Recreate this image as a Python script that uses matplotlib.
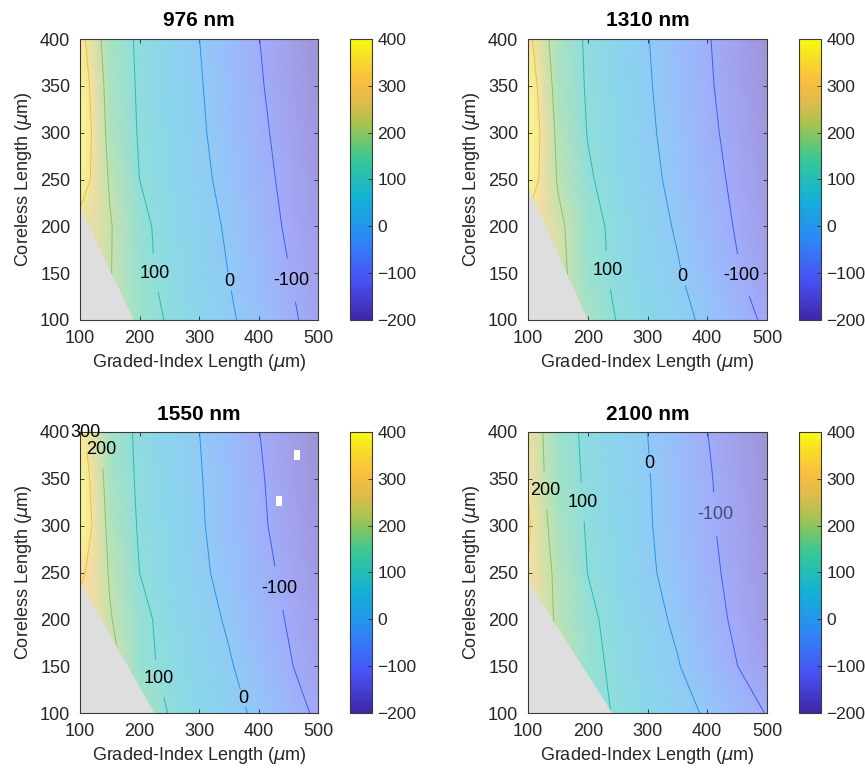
import numpy as np
import matplotlib
matplotlib.use("Agg")
import matplotlib.pyplot as plt
from matplotlib.colors import LinearSegmentedColormap, Normalize
from matplotlib.cm import ScalarMappable

plt.rcParams["font.family"] = ["Liberation Sans", "DejaVu Sans"]
plt.rcParams["axes.linewidth"] = 0.8

# ---- grid (µm) ----
gi_len = [100, 125, 150, 200, 250, 300, 350, 400, 450, 500]   # graded-index length
cl_len = [100, 150, 200, 250, 300, 350, 400]                   # coreless length

# ---- focal shift (µm), one row per coreless length, columns follow gi_len ----
shift_976 = [
    [320, 270, 220, 145, 90, 51, 12, -34, -83, -131],
    [300, 250, 205, 125, 75, 39, -1, -49, -97, -145],
    [250, 240, 207, 121, 70, 31, -10, -60, -111, -159],
    [380, 265, 192, 100, 60, 20, -24, -72, -121, -168],
    [400, 270, 172, 93, 52, 12, -34, -82, -130, -177],
    [380, 255, 165, 89, 48, 7, -42, -91, -139, -186],
    [340, 230, 157, 85, 43, 1, -49, -98, -146, -193],
]
shift_1310 = [
    [330, 280, 240, 160, 96, 60, 24, -16, -66, -115],
    [320, 270, 230, 135, 82, 46, 7, -42, -94, -142],
    [270, 255, 220, 134, 75, 34, -8, -57, -107, -155],
    [380, 270, 193, 110, 64, 22, -22, -70, -118, -166],
    [400, 275, 180, 97, 56, 14, -32, -81, -128, -176],
    [380, 250, 169, 91, 49, 8, -40, -89, -137, -184],
    [330, 225, 162, 87, 45, 3, -46, -94, -142, -189],
]
shift_1550 = [
    [330, 290, 250, 170, 96, 60, 25, -15, -64, -114],
    [320, 280, 240, 125, 80, 46, 8, -41, -92, -140],
    [260, 255, 207, 123, 71, 32, -10, -58, -106, -153],
    [320, 265, 192, 100, 58, 17, -27, -73, -119, -166],
    [400, 275, 173, 92, 51, 10, -37, -85, -132, -180],
    [385, 255, 161, 87, 47, 6, -41, -90, -138, -185],
    [340, 225, 155, 83, 42, 1, -48, -98, -146, -193],
]
shift_2100 = [
    [290, 260, 230, 140, 88, 58, 26, -9, -57, -104],
    [280, 250, 220, 130, 78, 43, 5, -46, -99, -147],
    [270, 235, 186, 118, 70, 29, -14, -65, -116, -164],
    [295, 230, 180, 99, 57, 14, -31, -78, -126, -173],
    [318, 218, 164, 92, 50, 8, -38, -87, -134, -182],
    [290, 205, 152, 85, 45, 5, -43, -91, -139, -186],
    [265, 200, 145, 80, 40, 0, -49, -99, -147, -194],
]

# no-solution corner: (coreless length at gi=100, gi length at coreless=100)
corner_976 = (221, 190)
corner_1310 = (242, 200)
corner_1550 = (240, 225)
corner_2100 = (241, 241)

# isolated failed points (gi, coreless)
missing_1550 = [(465, 375), (435, 326)]

levels = [-100, 0, 100, 200, 300]

# contour label anchors (gi, coreless)
labels_976 = [(222, 150), (351, 141), (453, 142)]
labels_1310 = [(230, 153), (359, 146), (456, 147)]
labels_1550 = [(97, 399), (124, 381), (236, 137), (374, 116), (433, 233)]
labels_2100 = [(125, 337), (187, 325), (303, 366), (412, 312)]

panels = [
    ("976 nm", shift_976, corner_976, labels_976, []),
    ("1310 nm", shift_1310, corner_1310, labels_1310, []),
    ("1550 nm", shift_1550, corner_1550, labels_1550, missing_1550),
    ("2100 nm", shift_2100, corner_2100, labels_2100, []),
]

# parula-like colour ramp
parula_nodes = [0.0, 1 / 7, 2 / 7, 3 / 7, 4 / 7, 0.64, 0.71, 0.77, 0.86, 0.93, 1.0]
parula_rgb = [
    (0.2422, 0.1504, 0.6603),
    (0.2810, 0.3228, 0.9579),
    (0.1786, 0.5289, 0.9682),
    (0.0689, 0.6948, 0.8394),
    (0.2161, 0.7843, 0.5923),
    (0.4500, 0.7750, 0.4200),
    (0.7000, 0.7600, 0.3000),
    (0.8600, 0.7350, 0.3000),
    (0.9900, 0.7500, 0.2400),
    (0.9700, 0.8600, 0.1600),
    (0.9728, 0.9840, 0.0530),
]
parula = LinearSegmentedColormap.from_list("parula", list(zip(parula_nodes, parula_rgb)), N=256)
# half-transparent surface over a white background
face_alpha = 0.5
parula_faded = LinearSegmentedColormap.from_list(
    "parula_faded",
    [(t, tuple(face_alpha * v + (1 - face_alpha) for v in rgb))
     for t, rgb in zip(parula_nodes, parula_rgb)],
    N=256)
norm = Normalize(-200, 400)

W, H = 865, 772
fig = plt.figure(figsize=(W / 100, H / 100), dpi=100)

col_x = [80, 528]
col_w = [238, 239]
cbar_x = [350, 799]
row_top = [39, 432]
ax_h = 281

text_col = "#262626"
gi = np.array(gi_len, float)
cl = np.array(cl_len, float)

for k, (title, vals, corner, lab_pos, missing) in enumerate(panels):
    r, c = divmod(k, 2)
    bottom = 1 - (row_top[r] + ax_h) / H
    ax = fig.add_axes([col_x[c] / W, bottom, col_w[c] / W, ax_h / H])
    cax = fig.add_axes([cbar_x[c] / W, bottom, 22 / W, ax_h / H])

    Z = np.array(vals, float)
    ax.pcolormesh(gi, cl, Z, shading="gouraud", cmap=parula_faded, norm=norm,
                  zorder=1, rasterized=True)
    cs = ax.contour(gi, cl, Z, levels=levels, cmap=parula, norm=norm,
                    linewidths=0.7, zorder=2)

    c0, g1 = corner
    ax.fill([gi_len[0], gi_len[0], g1], [cl_len[0], c0, cl_len[0]],
            color="#dedede", lw=0, zorder=2.5)

    if missing:
        mx, my = zip(*missing)
        ax.scatter(mx, my, marker=[(-0.33, -0.5), (0.33, -0.5), (0.33, 0.5), (-0.33, 0.5)],
                   s=45, color="white", lw=0, zorder=3)

    texts = ax.clabel(cs, manual=lab_pos, inline=True, inline_spacing=4,
                      fontsize=13, colors="k", fmt="%d", zorder=4)
    for t in texts:
        t.set_rotation(0)
        t.set_clip_on(False)
        if t.get_text() == "-100":
            t.set_color("#4a4a7a")

    ax.set_xlim(100, 500)
    ax.set_ylim(100, 400)
    ax.set_xticks(range(100, 501, 100))
    ax.set_yticks(range(100, 401, 50))
    ax.tick_params(direction="in", length=3, width=0.6, top=True, right=True,
                   labelsize=13, colors=text_col, pad=7)
    for s in ax.spines.values():
        s.set_color("#3a3a3a")
    ax.set_xlabel(r"Graded-Index Length ($\mu$m)", fontsize=13, color=text_col, labelpad=4)
    ax.set_ylabel(r"Coreless Length ($\mu$m)", fontsize=13, color=text_col, labelpad=4)
    ax.set_title(title, fontsize=15, fontweight="bold", pad=9)

    cb = fig.colorbar(ScalarMappable(norm=norm, cmap=parula), cax=cax,
                      ticks=range(-200, 401, 100))
    cb.ax.tick_params(direction="in", length=3, width=0.6, labelsize=12.5,
                      colors=text_col, pad=4)
    cb.outline.set_edgecolor("#3a3a3a")
    cb.outline.set_linewidth(0.8)

fig.savefig("out.png", dpi=100)
